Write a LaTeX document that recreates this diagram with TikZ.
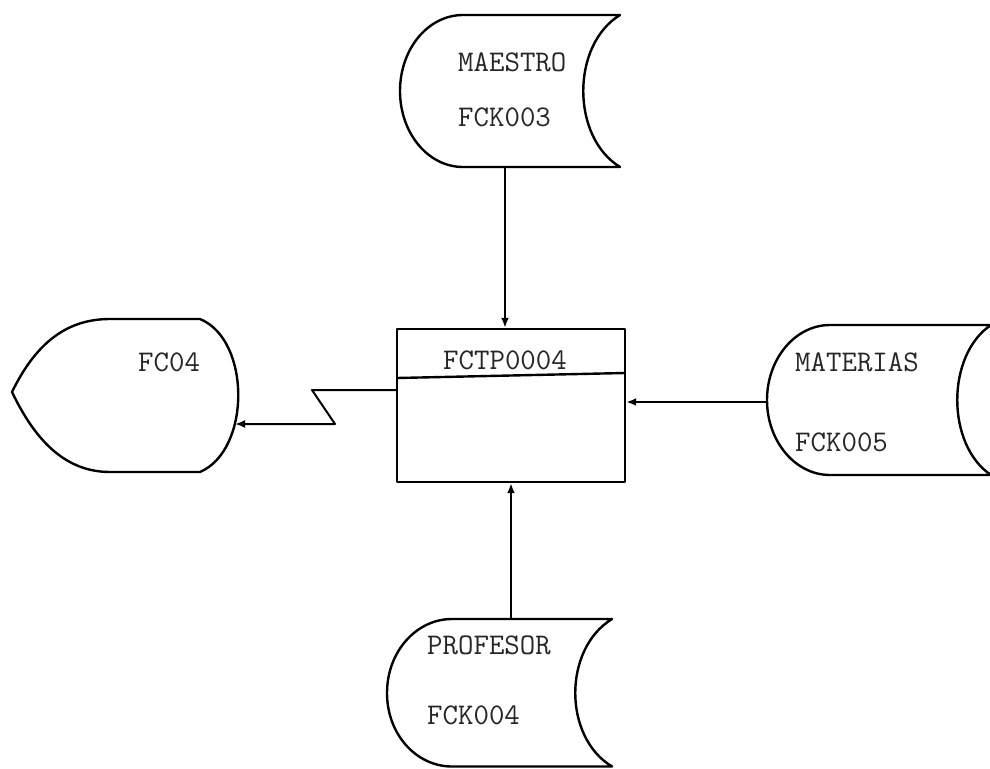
\documentclass[tikz,border=0pt]{standalone}
\usetikzlibrary{arrows.meta}
\begin{document}
\begin{tikzpicture}[x=1pt,y=-1pt,line join=round,
  shp/.style={draw=black,line width=2.4pt},
  lbl/.style={font=\fontsize{30}{30}\selectfont\ttfamily,text=black!85,inner sep=0pt,anchor=west},
  conn/.style={draw=black,line width=2pt,-{Latex[length=10pt,width=8pt]}}]
\useasboundingbox (0,0) rectangle (990,768);

% MAESTRO (stored data)
\draw[shp] (463,15) -- (620,15) .. controls (571,45) and (571,137) .. (620,167) -- (463,167)
  .. controls (428,167) and (400,133) .. (400,91) .. controls (400,49) and (428,15) .. (463,15) -- cycle;
\node[lbl] (maestro) at (458,62) {MAESTRO};
\node[lbl] (fck003) at (458,117) {FCK003};

% MATERIAS (stored data)
\draw[shp] (830,325) -- (991,325) .. controls (946,355) and (946,445) .. (991,475) -- (830,475)
  .. controls (795,475) and (767,441) .. (767,400) .. controls (767,359) and (795,325) .. (830,325) -- cycle;
\node[lbl] (materias) at (795,362) {MATERIAS};
\node[lbl] (fck005) at (795,442) {FCK005};

% PROFESOR (stored data)
\draw[shp] (452,619) -- (612,619) .. controls (563,649) and (563,737) .. (612,766.5) -- (452,766.5)
  .. controls (416,766.5) and (387,734) .. (387,693) .. controls (387,652) and (416,619) .. (452,619) -- cycle;
\node[lbl] (profesor) at (427,645) {PROFESOR};
\node[lbl] (fck004) at (427,715) {FCK004};

% FC04 (display)
\draw[shp] (110,319) -- (200,319) .. controls (251,340) and (251,450) .. (200,472) -- (110,472)
  .. controls (65,472) and (35,440) .. (12,392) .. controls (35,345) and (65,319) .. (110,319) -- cycle;
\node[lbl] (fc04) at (138,362) {FC04};

% Process box
\node[shp,inner sep=0pt,minimum width=228pt,minimum height=153pt] (proc) at (511,405.5) {};
\draw[shp] (397,378) -- (625,373);
\node[lbl,anchor=center] (ptitle) at (505,360) {FCTP0004};

% Connectors
\coordinate (mout) at (505,167);
\coordinate (matin) at (767,402);
\coordinate (pout) at (511,619);
\coordinate (fcin) at (235,424);
\coordinate (z1) at (312,390);
\coordinate (z2) at (335,424);
\draw[conn] (mout) -- (mout |- proc.north);
\draw[conn] (matin) -- (matin -| proc.east);
\draw[conn] (pout) -- (proc.south);
\draw[conn] (proc.west |- z1) -- (z1) -- (z2) -- (fcin);
\end{tikzpicture}
\end{document}
